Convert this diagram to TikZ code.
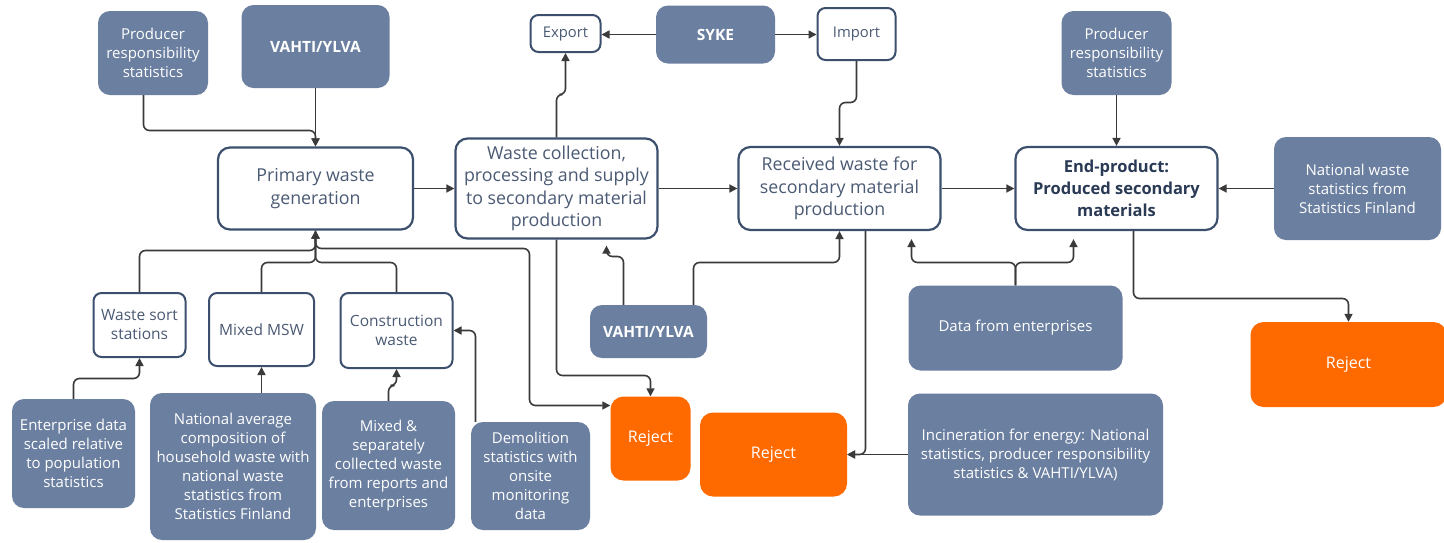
\documentclass[tikz,border=0pt]{standalone}
\usepackage{fontspec}
\setmainfont{Open Sans}
\usetikzlibrary{arrows.meta}
\definecolor{slate}{HTML}{6B7FA0}
\definecolor{rejorange}{HTML}{FF6A00}
\definecolor{navy}{HTML}{3C506E}
\definecolor{boxtext}{HTML}{4B5A74}
\definecolor{headtext}{HTML}{2A3A55}
\definecolor{wire}{HTML}{3A3A3A}
\begin{document}
\begin{tikzpicture}[x=1pt,y=-1pt,
  src/.style={fill=slate, rounded corners=12pt, text=white, align=center,
    inner sep=2pt, font=\fontsize{15}{19}\selectfont},
  srcbold/.style={src, font=\fontsize{15.5}{19}\selectfont\bfseries},
  stage/.style={draw=navy, line width=2.2pt, fill=white, rounded corners=12pt,
    text=boxtext, align=center, inner sep=2pt, font=\fontsize{17.8}{22.3}\selectfont},
  small/.style={draw=navy, line width=2pt, fill=white, rounded corners=8pt,
    text=boxtext, align=center, inner sep=2pt, font=\fontsize{15.5}{19}\selectfont},
  reject/.style={fill=rejorange, rounded corners=13pt, text=white, align=center,
    font=\fontsize{16}{19}\selectfont},
  conn/.style={draw=wire, line width=1.6pt, rounded corners=6pt,
    -{Triangle[length=8pt,width=8pt]}}]
\useasboundingbox[fill=white] (0,0) rectangle (1444,542);

% data sources (slate boxes)
\node[src, minimum width=110pt, minimum height=84pt] (p1) at (153,53) {Producer\\responsibility\\statistics};
\node[srcbold, minimum width=148pt, minimum height=83pt] (v1) at (315.5,46.5) {VAHTI/YLVA};
\node[srcbold, minimum width=119pt, minimum height=58pt] (syke) at (715.5,34.5) {SYKE};
\node[src, minimum width=110pt, minimum height=84pt] (p2) at (1116.5,53) {Producer\\responsibility\\statistics};
\node[src, minimum width=167pt, minimum height=103pt] (natl) at (1357.5,188.5) {National waste\\statistics from\\Statistics Finland};
\node[srcbold, minimum width=117pt, minimum height=53pt] (vahtiM) at (648.5,331.5) {VAHTI/YLVA};
\node[src, minimum width=214pt, minimum height=85pt] (data) at (1015.5,328) {Data from enterprises};
\node[src, minimum width=255pt, minimum height=122pt] (incin) at (1035.5,454.5) {Incineration for energy: National\\statistics, producer responsibility\\statistics \& VAHTI/YLVA)};
\node[src, minimum width=123pt, minimum height=109pt] (ent) at (73.5,453.5) {Enterprise data\\scaled relative\\to population\\statistics};
\node[src, minimum width=166pt, minimum height=147pt] (natavg) at (233,466.5) {National average\\composition of\\household waste with\\national waste\\statistics from\\Statistics Finland};
\node[src, minimum width=133pt, minimum height=129pt] (mixsep) at (388.5,465.5) {Mixed \&\\separately\\collected waste\\from reports and\\enterprises};
\node[src, minimum width=119pt, minimum height=108pt] (demo) at (530.5,476) {Demolition\\statistics with\\onsite\\monitoring\\data};

% process stages (white boxes)
\node[stage, minimum width=195pt, minimum height=82pt] (prim) at (315.5,188.5) {Primary waste\\generation};
\node[stage, minimum width=202pt, minimum height=100pt] (coll) at (556.5,188.5) {Waste collection,\\processing and supply\\to secondary material\\production};
\node[stage, minimum width=202pt, minimum height=83pt] (recv) at (839.5,188.5) {Received waste for\\secondary material\\production};
\node[stage, minimum width=202pt, minimum height=83pt, text=headtext, font=\fontsize{16.5}{22.3}\selectfont\bfseries] (endp) at (1116.5,188.5) {End-product:\\Produced secondary\\materials};
\node[small, minimum width=70pt, minimum height=37pt, font=\fontsize{14.8}{18}\selectfont] (export) at (565.5,33.5) {Export};
\node[small, minimum width=78pt, minimum height=52pt, font=\fontsize{14.8}{18}\selectfont] (import) at (856.5,34) {Import};
\node[small, minimum width=92pt, minimum height=64pt] (sort) at (139.5,325) {Waste sort\\stations};
\node[small, minimum width=105pt, minimum height=73pt] (msw) at (261.5,329.5) {Mixed MSW};
\node[small, minimum width=112pt, minimum height=75pt] (cons) at (396.5,330.5) {Construction\\waste};

% rejects
\node[reject, minimum width=80pt, minimum height=84pt] (rejS) at (650.5,438.5) {Reject};
\node[reject, minimum width=147pt, minimum height=84pt] (rejM) at (773.5,454.5) {Reject};
\node[reject, minimum width=196pt, minimum height=85pt] (rejR) at (1348.5,364.5) {Reject};

% main flow
\draw[conn] (prim.east) -- (prim.east -| coll.west);
\draw[conn] (coll.east) -- (coll.east -| recv.west);
\draw[conn] (recv.east) -- (recv.east -| endp.west);
\draw[conn] (natl.west) -- (natl.west -| endp.east);
\draw[conn] (p2.south) -- (endp.north);

% top inputs
\draw[conn] ([xshift=-9.5pt]p1.south) |- (315.5,130.5) -- (prim.north);
\draw[conn] (v1.south) -- (v1.south |- prim.north);
\draw[conn] (syke.west) -- (syke.west -| export.east);
\draw[conn] (syke.east) -- (syke.east -| import.west);
\draw[conn] (coll.north) -- (556.5,94.5) -- (565.5,94.5) -- (export.south);
\draw[conn] (import.south) |- (839.5,102.5) -- (recv.north);

% bottom inputs to primary generation
\draw[conn] (sort.north) |- (315.5,250.5) -- (prim.south);
\draw[conn] (msw.north) |- (315.5,262.5) -- (prim.south);
\draw[conn] (cons.north) |- (315.5,262.5) -- (prim.south);
\draw[conn] (ent.north) |- (139.5,378.5) -- (sort.south);
\draw[conn] ([xshift=28.5pt]natavg.north) -- (msw.south);
\draw[conn] (mixsep.north) |- (396.5,385.5) -- (cons.south);
\draw[conn] ([xshift=-55pt]demo.north) |- (cons.east);

% reject flows
\draw[conn] (prim.south) |- (529.5,248.5) |- ([yshift=33pt]rejS.west);
\draw[conn] (coll.south) |- (650.5,375.5) -- (rejS.north);
\draw[conn] ([xshift=26pt]recv.south) |- (rejM.east);
\draw[conn] (incin.west) -- (rejM.east);
\draw[conn] ([xshift=17pt]endp.south) |- (1348.5,298.5) -- (rejR.north);

% VAHTI/YLVA and enterprise data feeds
\draw[conn] ([xshift=-25pt]vahtiM.north) |- (606.5,256.5) -- ([xshift=50pt,yshift=-6pt]coll.south);
\draw[conn] ([xshift=45pt]vahtiM.north) |- (839.5,262.5) -- (recv.south);
\draw[conn] (data.north) |- (911.5,262.5) -- ([xshift=72pt,yshift=-8pt]recv.south);
\draw[conn] (data.north) |- (1073.5,262.5) -- ([xshift=-43pt,yshift=-8pt]endp.south);
\end{tikzpicture}
\end{document}
